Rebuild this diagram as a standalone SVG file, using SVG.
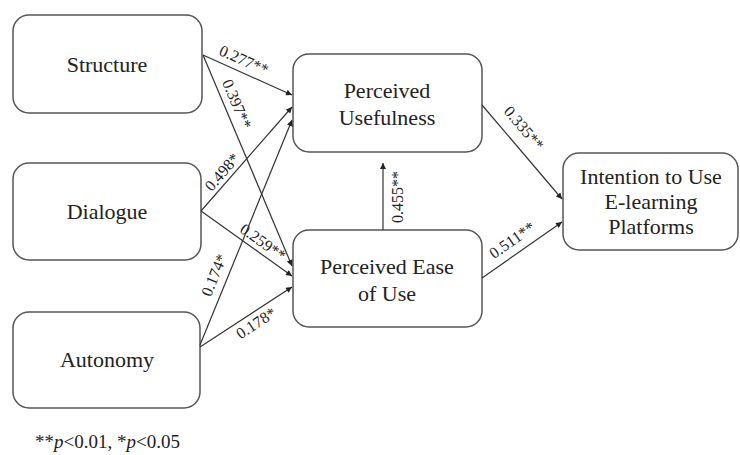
<svg xmlns="http://www.w3.org/2000/svg" width="740" height="455" viewBox="0 0 740 455">
<defs>
<marker id="ah" viewBox="0 0 10 10" refX="10" refY="5" markerWidth="7" markerHeight="6" markerUnits="userSpaceOnUse" orient="auto">
<path d="M0,0 L10,5 L0,10 z" fill="#222"/>
</marker>
<style>
.box{fill:#fff;stroke:#555;stroke-width:1.5}
.nt{font-family:'Liberation Serif','DejaVu Serif',serif;font-size:22px;fill:#222;text-anchor:middle}
.el{font-family:'Liberation Serif','DejaVu Serif',serif;font-size:16px;fill:#222;text-anchor:middle;dominant-baseline:central}
.lg{font-family:'Liberation Serif','DejaVu Serif',serif;font-size:19px;fill:#222}
.cn{stroke:#333;stroke-width:1.2;fill:none;marker-end:url(#ah)}
</style>
</defs>
<rect width="740" height="455" fill="#fff"/>
<g id="structure"><rect class="box" x="13" y="15" width="189" height="98" rx="16"/><text class="nt" x="107" y="72">Structure</text></g>
<g id="dialogue"><rect class="box" x="13" y="163" width="188" height="97" rx="16"/><text class="nt" x="107" y="219">Dialogue</text></g>
<g id="autonomy"><rect class="box" x="13" y="312" width="187" height="96" rx="16"/><text class="nt" x="107" y="367">Autonomy</text></g>
<g id="pu"><rect class="box" x="293" y="54" width="189" height="98" rx="16"/><text class="nt" x="387" y="98">Perceived</text><text class="nt" x="387" y="125">Usefulness</text></g>
<g id="peou"><rect class="box" x="293" y="230" width="189" height="97" rx="16"/><text class="nt" x="387" y="274">Perceived Ease</text><text class="nt" x="387" y="301">of Use</text></g>
<g id="intention"><rect class="box" x="563" y="153" width="175" height="97" rx="16"/><text class="nt" x="651" y="184">Intention to Use</text><text class="nt" x="651" y="209">E-learning</text><text class="nt" x="651" y="234">Platforms</text></g>
<g id="connectors">
<path class="cn" d="M203,55 L292,95"/>
<path class="cn" d="M203,55 L292,266"/>
<path class="cn" d="M201,211 L292,107"/>
<path class="cn" d="M201,211 L292,276"/>
<path class="cn" d="M200,345 L292,120"/>
<path class="cn" d="M200,347 L292,287"/>
<path class="cn" d="M383,230 L383,163"/>
<path class="cn" d="M482,105 L562,199"/>
<path class="cn" d="M482,278 L562,222"/>
</g>
<g id="labels">
<text class="el" transform="translate(244,60) rotate(24)">0.277**</text>
<text class="el" transform="translate(237,104) rotate(67)">0.397**</text>
<text class="el" transform="translate(222,172) rotate(-49)">0.498*</text>
<text class="el" transform="translate(263,242) rotate(35.5)">0.259**</text>
<text class="el" transform="translate(214,275) rotate(-67.7)">0.174*</text>
<text class="el" transform="translate(256,323) rotate(-33)">0.178*</text>
<text class="el" transform="translate(397,197) rotate(-90)">0.455**</text>
<text class="el" transform="translate(524,128) rotate(49.6)">0.335**</text>
<text class="el" transform="translate(512,240) rotate(-35)">0.511**</text>
</g>
<text class="lg" x="35" y="448">**<tspan font-style="italic">p</tspan>&lt;0.01, *<tspan font-style="italic">p</tspan>&lt;0.05</text>
</svg>
